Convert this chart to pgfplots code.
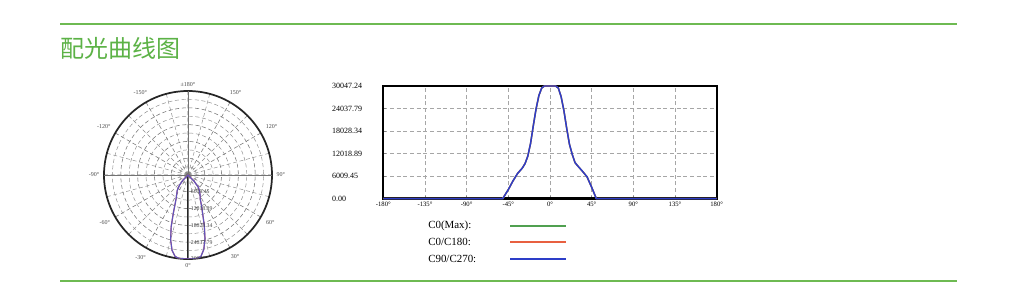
\documentclass[border=0pt]{standalone}
\usepackage{pgfplots}
\pgfplotsset{compat=1.18}
\usepackage{pgfplotstable}
\usepgfplotslibrary{polar}
\usepackage{fontspec}
\setmainfont{Liberation Serif}
\newfontfamily\cjk{Noto Sans CJK SC}
\definecolor{titlegreen}{RGB}{92,178,70}
\definecolor{linegreen}{RGB}{110,186,82}
\definecolor{legreen}{RGB}{80,160,80}
\definecolor{lered}{RGB}{232,96,64}
\definecolor{leblue}{RGB}{45,62,200}
\definecolor{pblue}{RGB}{96,84,190}

\pgfplotstableread{
phi I
-180 0
-51 0
-45 2400
-40 4700
-35 6700
-30 8100
-27 9300
-24 11300
-21 14700
-18 19500
-15 24000
-12 27500
-9 29500
-6 30047.24
0 30047.24
6 30047.24
9 29500
12 27200
15 23500
18 18800
21 14500
24 11800
27 9600
30 8700
35 7300
40 5800
45 3000
50 0
180 0
}\curve

% polar version: angle = phi-90 (phi>=0), phi+270 (phi<0)
\pgfplotstableread{
ang r
-90 30047.24
-84 30047.24
-81 29500
-78 27200
-75 23500
-72 18800
-69 14500
-66 11800
-63 9600
-60 8700
-55 7300
-50 5800
-45 3000
-40 0
90 0
219 0
225 2400
230 4700
235 6700
240 8100
243 9300
246 11300
249 14700
252 19500
255 24000
258 27500
261 29500
264 30047.24
270 30047.24
}\polarcurve

\begin{document}
\begin{tikzpicture}
\path[use as bounding box, fill=white] (0pt,0pt) rectangle (761.25pt,223.5pt);
\begin{scope}[x=0.75pt,y=0.75pt]
\draw[linegreen, line width=1.1pt] (60,274) -- (957,274);
\draw[linegreen, line width=1.1pt] (60,17) -- (957,17);
\node[anchor=west, inner sep=0pt, text=titlegreen, font=\cjk\fontsize{18}{18}\selectfont] at (60,250) {配光曲线图};
% legend
\begin{scope}[every node/.style={anchor=west, inner sep=0pt, font=\fontsize{8.2}{9}\selectfont}]
\node at (428,72) {C0(Max):};
\node at (428,56) {C0/C180:};
\node at (428,39) {C90/C270:};
\end{scope}
\draw[legreen, line width=1.3pt] (510,72) -- (566,72);
\draw[lered, line width=1.3pt] (510,56) -- (566,56);
\draw[leblue, line width=1.3pt] (510,39) -- (566,39);
\end{scope}

\begin{polaraxis}[
  at={(141pt,92.25pt)}, anchor=center,
  scale only axis, width=126pt, height=126pt,
  xmin=-90, xmax=270, ymin=0, ymax=30047.24,
  xtick={-90,-60,...,240},
  xticklabels={0°,30°,60°,90°,120°,150°,±180°,-150°,-120°,-90°,-60°,-30°},
  minor xtick={-75,-45,...,255},
  ytick={6009.45,12018.89,18028.34,24037.79,30047.24},
  minor ytick={3004.72,9014.17,15023.62,21033.07,27042.52},
  yticklabels={},
  scaled y ticks=false,
  grid=both,
  major grid style={densely dashed, black!55, line width=0.4pt},
  minor grid style={densely dashed, black!45, line width=0.35pt},
  extra x ticks={-90,0,90,180},
  extra x tick labels={},
  extra x tick style={grid=major, major grid style={solid, black!55, line width=0.5pt}},
  axis line style={black!85, line width=1.3pt},
  major tick length=0pt, minor tick length=0pt,
  xticklabel style={font=\fontsize{4.5}{5}\selectfont, text=black!70},
]
\addplot[lered!60!pblue, line width=0.9pt] table[x=ang,y=r]{\polarcurve};
\addplot[pblue, line width=0.8pt] table[x=ang,y=r]{\polarcurve};
\foreach \v/\t in {6009.45/6009.45,12018.89/12018.89,18028.34/18028.34,24037.79/24037.79,30047.24/30047.24}{
  \edef\tmp{\noexpand\node[anchor=west, inner sep=1pt, xshift=1pt, font=\noexpand\fontsize{4.3}{4.3}\noexpand\selectfont, text=black!75] at (axis cs:-90,\v) {\t};}
  \tmp
}
\end{polaraxis}

\begin{axis}[
  at={(287.5pt,74.6pt)}, anchor=south west,
  scale only axis, width=250pt, height=84.4pt,
  xmin=-180, xmax=180, ymin=0, ymax=30047.24,
  xtick={-180,-135,...,180},
  xticklabels={-180°,-135°,-90°,-45°,0°,45°,90°,135°,180°},
  ytick={0,6009.45,12018.89,18028.34,24037.79,30047.24},
  yticklabels={0.00,6009.45,12018.89,18028.34,24037.79,30047.24},
  scaled y ticks=false,
  grid=major,
  major grid style={densely dashed, black!35, line width=0.4pt},
  axis line style={black, line width=1.6pt},
  tick style={black!50, line width=0.4pt},
  major tick length=2pt,
  xtick pos=bottom, ytick pos=left,
  xticklabel style={font=\fontsize{5}{5}\selectfont, yshift=1pt},
  yticklabel style={font=\fontsize{6}{6}\selectfont, anchor=west, xshift=-42pt},
  clip=false,
]
\addplot[draw=legreen, line width=1.0pt] table[x=phi,y=I]{\curve};
\addplot[draw=lered, line width=1.0pt] table[x=phi,y=I]{\curve};
\addplot[draw=leblue, line width=1.1pt] table[x=phi,y=I]{\curve};
\end{axis}
\end{tikzpicture}
\end{document}
